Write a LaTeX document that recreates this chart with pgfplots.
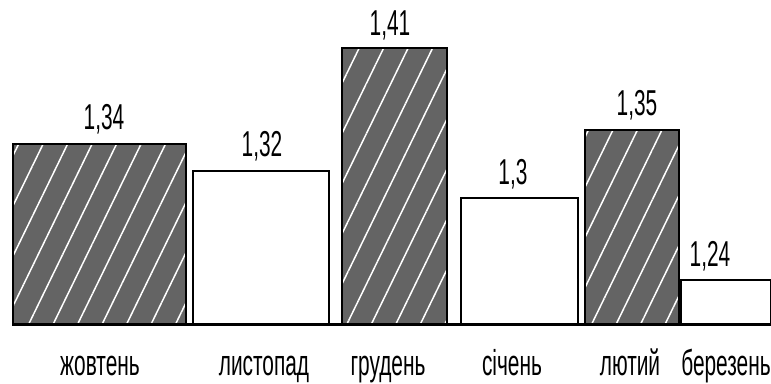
\documentclass[border=0pt]{standalone}
\usepackage{pgfplots}
\pgfplotsset{compat=1.18}
\usepackage{fontspec}
\setmainfont{Liberation Sans}[FakeStretch=0.58]
\usetikzlibrary{patterns.meta}
\definecolor{hatchbg}{RGB}{100,100,100}
\begin{document}
\begin{tikzpicture}
\path[use as bounding box] (0pt,-58pt) rectangle (771pt,325pt);
\begin{axis}[
  at={(0pt,0pt)}, anchor=south west,
  scale only axis, width=771pt, height=325pt,
  xmin=0, xmax=771, ymin=1.2072, ymax=1.445,
  axis line style={draw=none},
  ytick=\empty,
  xtick={100,264,388,512,630,726},
  xticklabels={жовтень,листопад,грудень,січень,лютий,березень},
  major tick length=0pt,
  xticklabel style={anchor=base, yshift=-50pt, inner sep=0pt, font=\fontsize{36}{40}\selectfont},
  /pgf/number format/assume math mode=true,
  /pgf/number format/use comma,
  every node near coord/.append style={anchor=base, yshift=14pt, inner sep=0pt, font=\fontsize{36}{40}\selectfont, text=black},
  hatched/.style={fill=hatchbg, postaction={pattern={Lines[angle=64,distance=22pt,line width=1.5pt]}, pattern color=white}},
  plain/.style={fill=white},
  barstyle/.style={ybar, bar shift=0pt, draw=black, line width=2pt, nodes near coords},
]
\addplot[barstyle, hatched, bar width=173, every node near coord/.append style={xshift=4.5pt}] coordinates {(99.5,1.34)};
\addplot[barstyle, plain, bar width=136, every node near coord/.append style={xshift=1pt}] coordinates {(261,1.32)};
\addplot[barstyle, hatched, bar width=105, every node near coord/.append style={xshift=-4.5pt, yshift=-2pt}] coordinates {(394.5,1.41)};
\addplot[barstyle, plain, bar width=117, every node near coord/.append style={xshift=-6.5pt}] coordinates {(519.5,1.3)};
\addplot[barstyle, hatched, bar width=94, every node near coord/.append style={xshift=5pt}] coordinates {(632,1.35)};
\addplot[barstyle, plain, bar width=90, every node near coord/.append style={xshift=-16pt}] coordinates {(726,1.24)};
\addplot[black, line width=4.5pt] coordinates {(13,1.2072) (771,1.2072)};
\end{axis}
\end{tikzpicture}
\end{document}
